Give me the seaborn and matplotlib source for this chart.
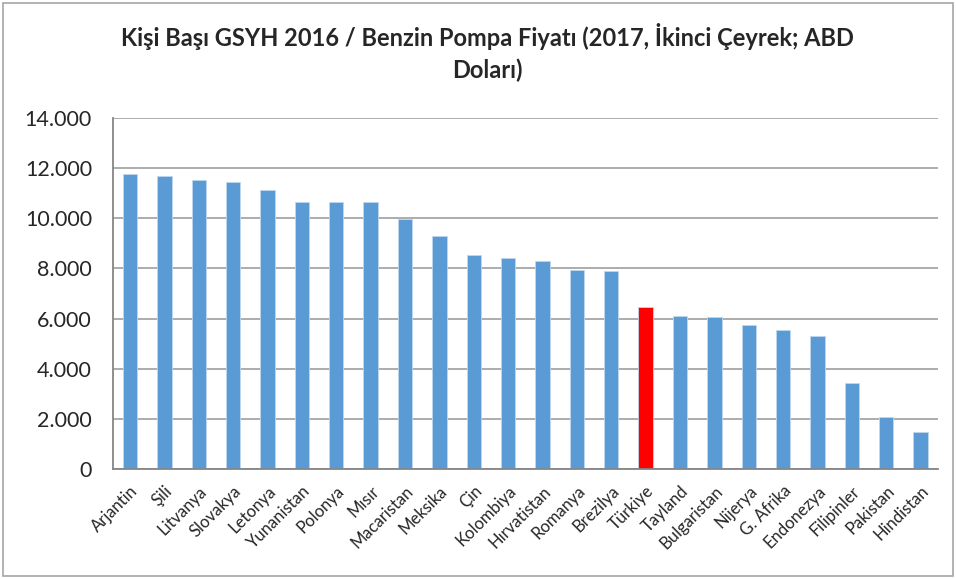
import numpy as np
import pandas as pd
import seaborn as sns
import matplotlib.pyplot as plt
from matplotlib.ticker import FuncFormatter, FixedLocator
from matplotlib.patches import Rectangle

sns.set_style("white")
plt.rcParams['font.family'] = ['Lato', 'DejaVu Sans']

# data
countries = ["Arjantin", "Şili", "Litvanya", "Slovakya", "Letonya", "Yunanistan",
             "Polonya", "Mısır", "Macaristan", "Meksika", "Çin", "Kolombiya",
             "Hırvatistan", "Romanya", "Brezilya", "Türkiye", "Tayland", "Bulgaristan",
             "Nijerya", "G. Afrika", "Endonezya", "Filipinler", "Pakistan", "Hindistan"]
values = [11790, 11690, 11515, 11435, 11115, 10665,
          10650, 10640, 9970, 9280, 8535, 8405,
          8295, 7940, 7900, 6460, 6115, 6075,
          5730, 5560, 5305, 3430, 2060, 1490]
highlight = "Türkiye"

df = pd.DataFrame({"country": countries, "value": values})
palette = {c: ("#FF0000" if c == highlight else "#5B9BD5") for c in countries}

fig = plt.figure(figsize=(9.56, 5.79), dpi=100)
ax = fig.add_axes([0.118, 0.19, 0.863, 0.606])

sns.barplot(data=df, x="country", y="value", hue="country", palette=palette,
            order=countries, hue_order=countries, dodge=False, legend=False,
            width=0.42, saturation=1, edgecolor="#BDD7EE", linewidth=0.6, ax=ax)

ax.set_ylim(0, 14000)
ax.set_xlim(-0.5, len(countries) - 0.5)
ax.set_yticks(range(0, 14001, 2000))
ax.yaxis.set_major_formatter(FuncFormatter(lambda v, p: f"{int(v):,}".replace(",", ".")))
ax.yaxis.grid(True, color="#A6A6A6", linewidth=1.3)
ax.set_axisbelow(True)
ax.set_xlabel("")
ax.set_ylabel("")

for s in ["top", "right"]:
    ax.spines[s].set_visible(False)
ax.spines["left"].set_color("#868686")
ax.spines["bottom"].set_color("#868686")
ax.spines["left"].set_linewidth(1.3)
ax.spines["bottom"].set_linewidth(1.3)

ax.tick_params(axis="y", length=0, labelsize=15.5, pad=15)
ax.tick_params(axis="x", which="major", length=0, labelsize=12, pad=10)
ax.xaxis.set_minor_locator(FixedLocator(np.arange(-0.5, len(countries), 1)))
ax.tick_params(axis="x", which="minor", length=5, width=1.3, color="#868686")
plt.setp(ax.get_xticklabels(), rotation=45, ha="right", rotation_mode="anchor")

fig.suptitle("Kişi Başı GSYH 2016 / Benzin Pompa Fiyatı (2017, İkinci Çeyrek; ABD\nDoları)",
             x=0.51, y=0.96, fontsize=17, fontweight="bold", linespacing=1.45)

fig.patches.append(Rectangle((0.003, 0.005), 0.994, 0.99, transform=fig.transFigure,
                             fill=False, edgecolor="#A6A6A6", linewidth=1.2))

fig.savefig("out.png", dpi=100)
plt.close()
